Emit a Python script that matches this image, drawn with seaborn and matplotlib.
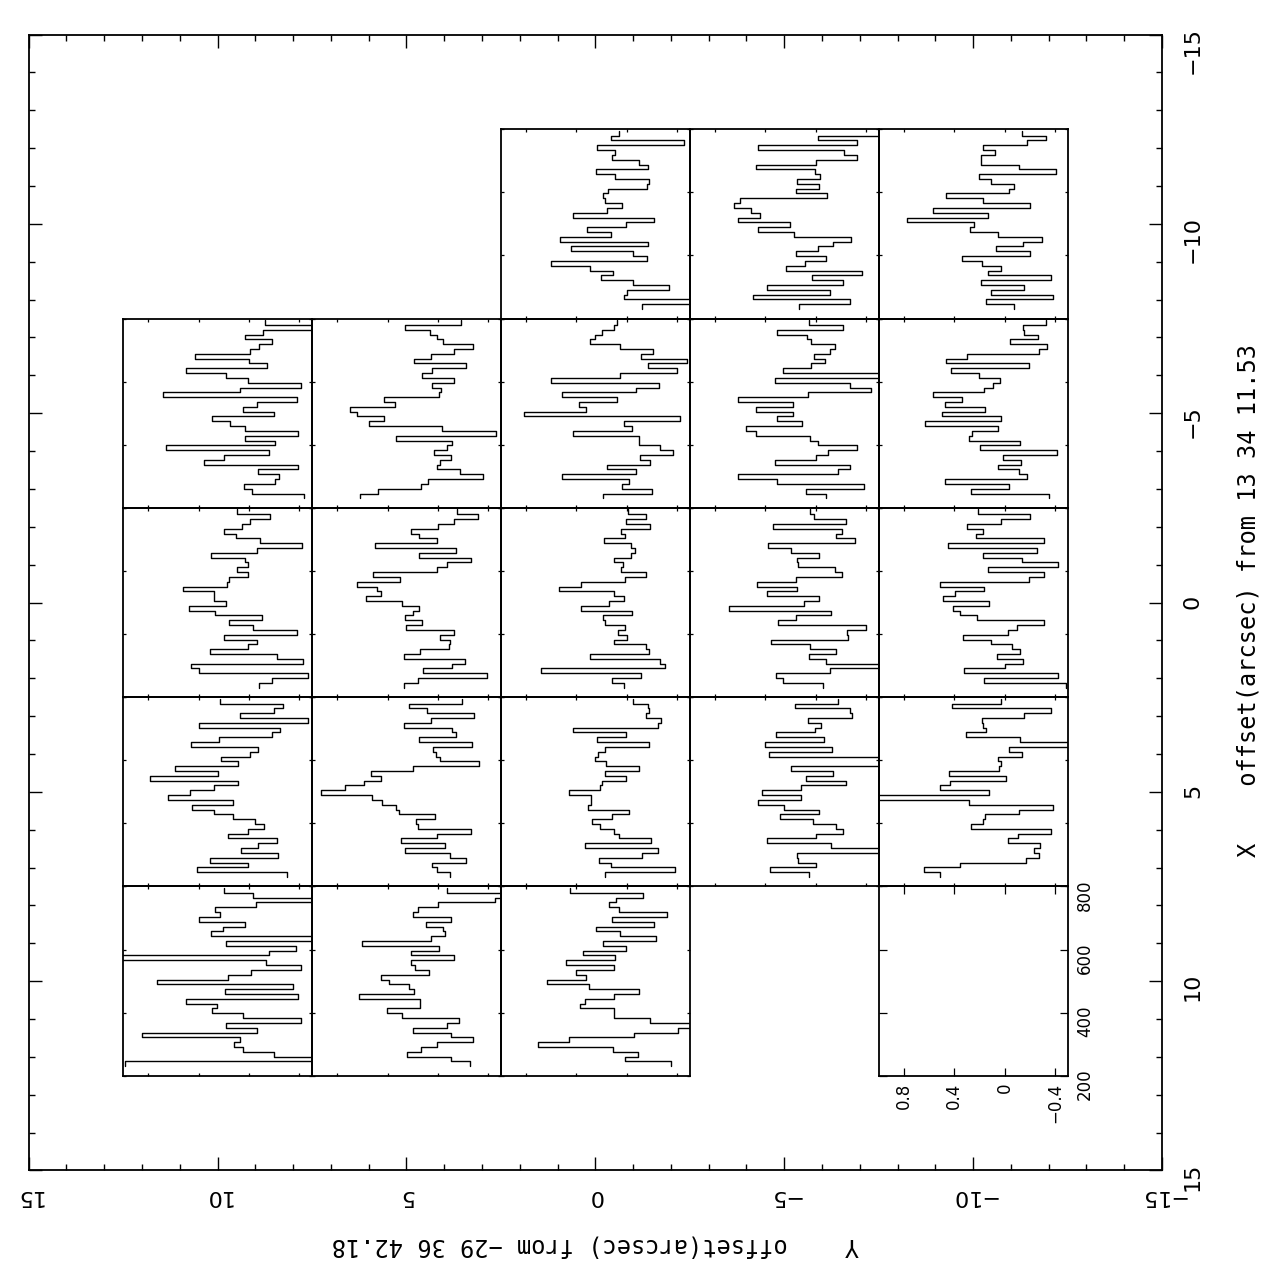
import numpy as np
import matplotlib
matplotlib.use("Agg")
import matplotlib.pyplot as plt
import seaborn as sns
from matplotlib.ticker import FixedLocator, MultipleLocator

sns.set_theme(style="ticks")
plt.rcParams["font.family"] = ["DejaVu Sans"]
plt.rcParams["axes.edgecolor"] = "black"
plt.rcParams["xtick.color"] = "black"
plt.rcParams["ytick.color"] = "black"
plt.rcParams["text.color"] = "black"

# ---- map frame -------------------------------------------------------------
OFFSET_TICKS = [15, 10, 5, 0, -5, -10, -15]
X_LABEL = "X    offset(arcsec) from 13 34 11.53"
Y_LABEL = "Y    offset(arcsec) from \u221229 36 42.18"

# ---- spectrum axes -----------------------------------------------------------
VELOCITY_TICKS = [200, 400, 600, 800]
INTENSITY_TICKS = [-0.4, 0.0, 0.4, 0.8]
VELOCITY_RANGE = (200, 800)
INTENSITY_RANGE = (1.0, -0.5)
# channel edges of the spectra (km/s), first channel = highest velocity
V_FIRST_EDGE = 795.0
V_LAST_EDGE = 230.0

# ---- spectra (intensity per channel, highest velocity first) ----------------
# names: sp_<Y offset>_<X offset>, m = minus
sp_y10_xm5 = [-0.13, -0.55, -0.11, 0.03, -0.18, -0.08, -0.01, 0.43, 0.00, -0.14, 0.50, 0.18, 0.01,
              -0.41, 0.07, 0.68, -0.38, -0.06, 0.05, -0.20, 0.29, 0.15, 0.03, -0.39, 0.03, -0.21,
              0.66, -0.16, 0.20, 0.36, -0.39, -0.07, -0.24, -0.21, 0.04, -0.02, -0.44]
sp_y10_x0 = [0.095, -0.17, -0.01, 0.055, 0.195, 0.10, -0.085, -0.42, -0.06, 0.305, 0.035, 0.01, 0.095,
             0.01, 0.155, 0.175, 0.525, 0.275, 0.275, 0.185, 0.475, 0.27, -0.10, 0.155, -0.035, -0.385,
             0.195, -0.065, 0.01, 0.31, -0.225, -0.43, 0.46, 0.40, -0.465, -0.18, -0.08]
sp_y10_x5 = [0.23, -0.27, -0.195, 0.07, -0.47, 0.395, -0.25, -0.18, 0.24, 0.46, -0.075, -0.01, 0.22,
             0.085, 0.585, 0.245, 0.785, 0.085, 0.275, 0.47, 0.64, 0.125, 0.455, 0.275, 0.13, -0.045,
             -0.12, 0.005, 0.165, -0.225, -0.07, 0.06, -0.23, 0.31, 0.01, 0.41, -0.305]
sp_y10_x10 = [0.195, -0.035, -0.6, -0.055, 0.27, 0.23, 0.395, 0.035, 0.21, 0.305, -0.6, 0.185, -0.37,
              -0.16, 1.1, -0.135, -0.415, -0.015, 0.17, 0.73, -0.35, 0.19, -0.39, 0.50, 0.255, 0.29,
              0.05, -0.415, 0.185, -0.065, 0.85, 0.075, 0.12, 0.05, -0.20, -0.6, 0.985]
sp_y5_xm5 = [-0.18, 0.26, 0.065, 0.01, -0.04, -0.28, -0.13, 0.055, 0.19, -0.225, 0.05, 0.13, -0.125,
             0.045, -0.025, -0.01, 0.425, 0.34, 0.70, 0.645, 0.43, 0.545, -0.035, -0.465, 0.33, -0.115,
             -0.075, 0.03, -0.105, -0.02, 0.01, -0.175, -0.355, 0.075, 0.135, 0.475, 0.615]
sp_y5_x0 = [-0.155, -0.32, -0.125, 0.0, 0.215, 0.15, 0.01, 0.50, -0.145, 0.15, -0.26, -0.07, 0.005,
            0.515, 0.30, 0.645, 0.485, 0.455, 0.57, 0.285, 0.15, 0.195, 0.26, 0.125, 0.255, -0.125,
            -0.02, -0.10, -0.085, 0.145, 0.27, -0.215, -0.11, 0.12, -0.39, 0.16, 0.27]
sp_y5_x5 = [-0.195, 0.23, 0.085, -0.29, 0.055, 0.27, -0.11, -0.145, 0.15, -0.27, 0.035, 0.015, -0.02,
            -0.325, 0.195, 0.53, 0.455, 0.59, 0.74, 0.93, 0.525, 0.445, 0.335, 0.31, 0.02, 0.175,
            0.155, -0.26, 0.005, 0.295, -0.06, 0.26, -0.10, -0.22, 0.05, 0.01, -0.095]
sp_y5_x10 = [-0.075, -0.55, -0.45, 0.0, 0.16, 0.195, -0.105, 0.095, -0.04, -0.06, 0.055, 0.605, -0.01,
             0.215, -0.125, 0.215, 0.18, 0.07, 0.455, 0.385, 0.23, 0.19, 0.625, 0.14, 0.145, 0.405,
             0.285, -0.165, -0.07, 0.20, -0.105, -0.275, 0.005, 0.135, 0.245, -0.105, -0.255]
sp_y0_xm10 = [0.065, 0.125, -0.455, 0.235, 0.09, 0.115, -0.095, -0.165, 0.245, 0.09, -0.18, -0.16, 0.15,
              0.19, 0.17, 0.04, 0.155, 0.43, -0.215, 0.005, 0.315, 0.125, 0.53, -0.17, 0.44, -0.05,
              -0.16, 0.605, 0.295, 0.11, 0.205, -0.05, -0.335, -0.005, 0.02, -0.55, -0.12]
sp_y0_xm5 = [0.075, 0.10, 0.20, 0.255, 0.295, 0.05, -0.21, -0.11, -0.48, -0.165, -0.40, 0.055, 0.605,
             -0.255, -0.075, 0.515, 0.075, 0.38, 0.325, 0.815, -0.42, 0.02, -0.04, 0.43, -0.10, -0.10,
             -0.265, -0.37, -0.105, -0.185, 0.155, -0.075, 0.515, -0.02, 0.035, -0.20, 0.185]
sp_y0_x0 = [-0.01, -0.15, 0.01, -0.185, 0.045, 0.015, 0.18, -0.03, -0.065, -0.03, 0.105, 0.03, 0.045,
            -0.15, 0.015, 0.36, 0.535, 0.10, 0.025, 0.145, 0.365, -0.04, 0.19, 0.175, 0.015, 0.07,
            0.0, 0.10, -0.15, -0.18, 0.29, -0.265, -0.305, 0.68, -0.11, 0.115, 0.02]
sp_y0_x5 = [-0.05, -0.165, -0.18, -0.155, -0.275, -0.25, 0.43, 0.01, 0.24, -0.18, 0.17, 0.23, 0.255,
            0.165, -0.10, 0.175, 0.005, 0.195, 0.21, 0.455, 0.285, 0.285, 0.305, -0.015, 0.115, 0.275,
            0.215, 0.10, 0.06, -0.19, 0.335, -0.25, -0.12, 0.22, 0.125, -0.385, 0.17]
sp_y0_x10 = [0.45, -0.125, 0.085, 0.14, 0.06, -0.32, 0.12, -0.22, 0.245, 0.055, -0.23, 0.19, 0.005,
             0.345, 0.095, 0.485, 0.105, 0.40, 0.32, 0.635, 0.30, -0.10, 0.10, 0.335, 0.37, 0.10,
             0.10, -0.185, -0.55, -0.405, -0.06, 0.455, 0.705, 0.11, -0.09, 0.015, -0.35]
sp_ym5_xm10 = [-0.55, -0.015, -0.325, 0.46, -0.225, -0.33, 0.0, 0.475, 0.005, -0.035, 0.15, -0.03, 0.155,
               -0.09, 0.60, 0.65, 0.515, 0.445, 0.62, 0.205, 0.455, 0.17, -0.28, -0.135, -0.02, 0.155,
               -0.08, 0.085, 0.235, -0.365, 0.03, -0.215, 0.39, -0.115, 0.50, -0.27, 0.13]
sp_ym5_xm5 = [0.055, -0.22, 0.31, 0.07, 0.04, -0.15, -0.11, 0.01, -0.075, 0.035, 0.26, -0.55, 0.325,
              -0.275, -0.44, 0.06, 0.615, 0.18, 0.475, 0.18, 0.31, 0.11, 0.555, 0.475, 0.045, -0.02,
              -0.33, -0.10, -0.005, 0.32, -0.275, -0.175, 0.62, 0.305, -0.385, 0.075, -0.08]
sp_ym5_x0 = [0.045, 0.015, -0.24, 0.34, -0.21, -0.165, -0.315, 0.38, 0.195, -0.025, 0.145, 0.14, -0.15,
             -0.21, 0.155, 0.465, 0.145, 0.39, -0.025, 0.095, 0.685, -0.125, 0.16, 0.30, -0.40, -0.245,
             -0.26, 0.355, 0.045, -0.16, 0.055, -0.08, -0.55, -0.11, 0.315, 0.26, -0.06]
sp_ym5_x5 = [-0.175, 0.165, -0.275, -0.29, 0.06, -0.04, 0.005, 0.315, -0.065, 0.405, -0.13, 0.37, -0.55,
             -0.6, 0.195, -0.14, 0.075, -0.24, 0.115, 0.43, 0.12, 0.46, 0.255, -0.025, 0.285, 0.02,
             -0.165, -0.22, 0.0, 0.385, -0.12, -0.55, 0.145, 0.14, 0.0, 0.36, 0.05]
sp_ym10_xm10 = [-0.135, -0.33, -0.18, 0.175, 0.075, 0.19, 0.185, -0.115, -0.41, 0.20, 0.105, -0.075,
                -0.035, 0.465, 0.175, -0.20, 0.565, 0.13, 0.775, 0.245, 0.275, 0.05, -0.295, -0.15,
                0.07, -0.20, 0.34, 0.18, 0.03, 0.13, -0.365, 0.185, -0.155, 0.105, -0.385, 0.145, -0.075]
sp_ym10_xm5 = [-0.325, -0.145, -0.155, -0.265, -0.045, -0.335, -0.275, 0.30, 0.465, -0.195, 0.425, 0.205,
               0.04, 0.095, 0.16, 0.565, 0.335, 0.475, 0.155, 0.495, 0.03, 0.635, 0.055, 0.26, 0.28,
               -0.125, 0.195, -0.415, 0.015, -0.13, 0.055, -0.115, -0.175, 0.475, -0.035, 0.265, -0.355]
sp_ym10_x0 = [0.215, -0.205, 0.025, 0.30, 0.175, 0.23, -0.31, 0.45, -0.26, 0.17, -0.14, -0.425, 0.13,
              -0.31, -0.195, 0.515, 0.16, 0.39, 0.49, 0.125, 0.41, 0.355, 0.22, -0.31, -0.10, -0.025,
              0.33, 0.105, -0.06, -0.12, 0.06, -0.15, 0.0, 0.325, -0.425, 0.16, -0.485]
sp_ym10_x5 = [0.03, 0.42, -0.37, -0.155, 0.18, 0.17, 0.15, 0.31, -0.12, -0.55, -0.035, -0.14, 0.05,
              0.025, 0.045, 0.44, -0.015, 0.435, 0.515, 0.12, 1.1, 0.28, -0.385, -0.115, 0.155, 0.175,
              0.27, -0.37, -0.105, -0.03, -0.285, -0.235, -0.275, -0.17, 0.355, 0.64, 0.515]

# (Y offset, X offset) of each spectrum
SPECTRA = {
    (10, -5): sp_y10_xm5, (10, 0): sp_y10_x0, (10, 5): sp_y10_x5, (10, 10): sp_y10_x10,
    (5, -5): sp_y5_xm5, (5, 0): sp_y5_x0, (5, 5): sp_y5_x5, (5, 10): sp_y5_x10,
    (0, -10): sp_y0_xm10, (0, -5): sp_y0_xm5, (0, 0): sp_y0_x0, (0, 5): sp_y0_x5, (0, 10): sp_y0_x10,
    (-5, -10): sp_ym5_xm10, (-5, -5): sp_ym5_xm5, (-5, 0): sp_ym5_x0, (-5, 5): sp_ym5_x5,
    (-10, -10): sp_ym10_xm10, (-10, -5): sp_ym10_xm5, (-10, 0): sp_ym10_x0, (-10, 5): sp_ym10_x5,
}
# position of the labelled scale box
SCALE_BOX = (-10, 10)
CELL = 5.0
MAP_HALF = 15.0

LABEL_FONT = ["DejaVu Sans Mono", "DejaVu Sans"]

# ---- figure ----------------------------------------------------------------
W_PX = H_PX = 1263
fig = plt.figure(figsize=(W_PX / 100, H_PX / 100), dpi=100)
left, right, top, bottom = 28.6, 1162.0, 34.6, 1170.4
ax = fig.add_axes([left / W_PX, 1 - bottom / H_PX, (right - left) / W_PX, (bottom - top) / H_PX])
ax.set_facecolor("white")
ax.set_xlim(MAP_HALF, -MAP_HALF)   # Y offset, east to the left
ax.set_ylim(MAP_HALF, -MAP_HALF)   # X offset, growing downwards
ax.xaxis.set_major_locator(FixedLocator(OFFSET_TICKS))
ax.yaxis.set_major_locator(FixedLocator(OFFSET_TICKS))
ax.xaxis.set_minor_locator(MultipleLocator(1))
ax.yaxis.set_minor_locator(MultipleLocator(1))
ax.tick_params(which="both", direction="in", top=True, bottom=True, left=True, right=True,
               labelbottom=True, labeltop=False, labelleft=False, labelright=True,
               width=1.0, colors="black", labelsize=16)
ax.tick_params(which="major", length=9.5)
ax.tick_params(which="minor", length=4.5)
ax.tick_params(axis="x", labelrotation=180, pad=11)
ax.tick_params(axis="y", labelrotation=90, pad=15)
for s in ax.spines.values():
    s.set_linewidth(1.3)
    s.set_color("black")
ax.grid(False)

ax.text(1.0759, 0.502, X_LABEL, transform=ax.transAxes, rotation=90,
        ha="center", va="center", fontsize=17, family=LABEL_FONT)
ax.text(0.5, -0.0657, Y_LABEL, transform=ax.transAxes, rotation=180,
        ha="center", va="center", fontsize=17, family=LABEL_FONT)


def cell_axes(y_off, x_off):
    span = 2 * MAP_HALF
    bounds = [(MAP_HALF - (y_off + CELL / 2)) / span,
              (MAP_HALF - (x_off + CELL / 2)) / span,
              CELL / span, CELL / span]
    iax = ax.inset_axes(bounds)
    iax.set_facecolor("none")
    for s in iax.spines.values():
        s.set_linewidth(1.3)
        s.set_color("black")
    iax.grid(False)
    return iax


def finish_cell(iax, tick_len, labels):
    iax.set_xlim(*INTENSITY_RANGE)
    iax.set_ylim(*VELOCITY_RANGE)
    iax.set_xticks(INTENSITY_TICKS)
    iax.set_yticks(VELOCITY_TICKS)
    iax.set_xlabel("")
    iax.set_ylabel("")
    iax.tick_params(which="both", direction="in", top=True, bottom=True, left=True, right=True,
                    length=tick_len, width=0.9, colors="black",
                    labelbottom=labels, labelright=labels, labelleft=False, labeltop=False,
                    labelsize=12)
    if labels:
        iax.set_xticklabels(["\u22120.4", "0", "0.4", "0.8"])
        iax.tick_params(axis="x", labelrotation=90, pad=5)
        iax.tick_params(axis="y", labelrotation=90, pad=6)
        for t in iax.get_xticklabels():
            t.set_verticalalignment("top")


for (y_off, x_off), values in SPECTRA.items():
    iax = cell_axes(y_off, x_off)
    vals = np.asarray(values, dtype=float)
    edges = np.linspace(V_FIRST_EDGE, V_LAST_EDGE, len(vals) + 1)
    xs = np.repeat(vals, 2)
    ys = np.column_stack([edges[:-1], edges[1:]]).ravel()
    sns.lineplot(x=xs, y=ys, sort=False, estimator=None, ax=iax,
                 color="black", linewidth=1.0, legend=False)
    finish_cell(iax, 2.2, False)

scale_ax = cell_axes(*SCALE_BOX)
finish_cell(scale_ax, 6.0, True)

fig.savefig("out.png", dpi=100, facecolor="white")
